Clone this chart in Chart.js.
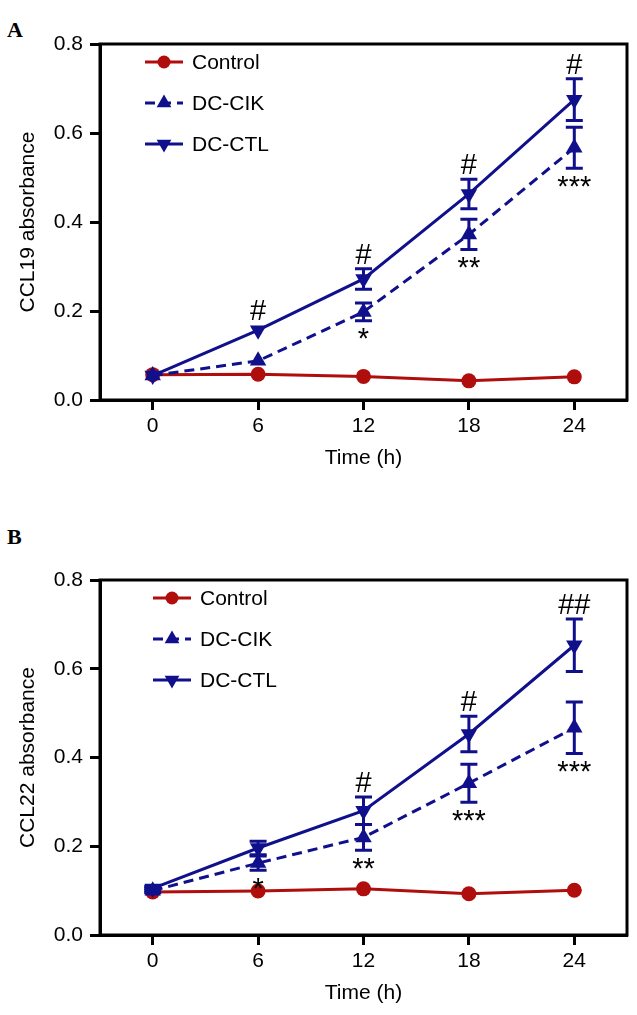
<!DOCTYPE html>
<html>
<head>
<meta charset="utf-8">
<script src="https://cdn.jsdelivr.net/npm/chart.js@4.4.1/dist/chart.umd.min.js"></script>
<style>
  body { margin: 0; background: #fff; }
  #page { position: relative; width: 637px; height: 1015px; overflow: hidden; }
  .panel { position: absolute; left: 0; width: 637px; }
  .tag { position: absolute; left: 7px; font: bold 22px "Liberation Serif", serif; color: #000; }
</style>
</head>
<body>
<div id="page">
  <div class="tag" style="top:17px">A</div>
  <div class="panel" style="top:0; height:480px"><canvas id="chartA"></canvas></div>
  <div class="tag" style="top:524px">B</div>
  <div class="panel" style="top:500px; height:515px"><canvas id="chartB"></canvas></div>
</div>
<script>
// x categories (hours) and y ticks
const hours = [0, 6, 12, 18, 24];
const yTicks = [0, 0.2, 0.4, 0.6, 0.8];
const names = ['Control', 'DC-CIK', 'DC-CTL'];

// panel A - CCL19
const ccl19Control = [0.057, 0.058, 0.053, 0.043, 0.052];
const ccl19Cik     = [0.055, 0.088, 0.198, 0.372, 0.567];
const ccl19CikErr  = [0, 0, 0.02, 0.034, 0.046];
const ccl19Ctl     = [0.055, 0.157, 0.272, 0.463, 0.675];
const ccl19CtlErr  = [0, 0, 0.023, 0.033, 0.047];
const ccl19Hash    = ['', '#', '#', '#', '#'];
const ccl19Star    = ['', '', '*', '**', '***'];

// panel B - CCL22
const ccl22Control = [0.097, 0.099, 0.104, 0.093, 0.101];
const ccl22Cik     = [0.100, 0.162, 0.220, 0.342, 0.467];
const ccl22CikErr  = [0.005, 0.016, 0.029, 0.043, 0.058];
const ccl22Ctl     = [0.105, 0.196, 0.280, 0.453, 0.653];
const ccl22CtlErr  = [0.005, 0.015, 0.031, 0.040, 0.059];
const ccl22Hash    = ['', '', '#', '#', '##'];
const ccl22Star    = ['', '*', '**', '***', '***'];

const red = '#b00d0d';
const blue = '#10108c';
const FONT = '"Liberation Sans", Arial, sans-serif';

// error bars, significance marks, frame and legend
const marksPlugin = {
  id: 'marks',
  afterDatasetsDraw(chart, args, opts) {
    const ctx = chart.ctx;
    const x = chart.scales.x, y = chart.scales.y;
    const a = chart.chartArea;
    ctx.save();
    ctx.strokeStyle = blue;
    ctx.lineWidth = 3;
    [[opts.cik, opts.cikErr], [opts.ctl, opts.ctlErr]].forEach(([vals, errs]) => {
      vals.forEach((v, i) => {
        if (!errs[i]) return;
        const px = x.getPixelForValue(hours[i]);
        const top = y.getPixelForValue(v + errs[i]);
        const bot = y.getPixelForValue(v - errs[i]);
        ctx.beginPath();
        ctx.moveTo(px, top); ctx.lineTo(px, bot);
        ctx.moveTo(px - 8.5, top); ctx.lineTo(px + 8.5, top);
        ctx.moveTo(px - 8.5, bot); ctx.lineTo(px + 8.5, bot);
        ctx.stroke();
      });
    });

    ctx.fillStyle = '#000';
    ctx.textAlign = 'center';
    ctx.font = '29px ' + FONT;
    hours.forEach((h, i) => {
      const px = x.getPixelForValue(h);
      if (opts.hash[i]) {
        const top = Math.min(y.getPixelForValue(opts.ctl[i] + opts.ctlErr[i]),
                             y.getPixelForValue(opts.ctl[i]) - 5);
        ctx.textBaseline = 'alphabetic';
        ctx.fillText(opts.hash[i], px, top - 5);
      }
      if (opts.star[i]) {
        const bot = Math.max(y.getPixelForValue(opts.cik[i] - opts.cikErr[i]),
                             y.getPixelForValue(opts.cik[i]) + 6);
        ctx.textBaseline = 'top';
        ctx.fillText(opts.star[i], px, bot + 5);
      }
    });

    // box round the plot
    ctx.strokeStyle = '#000';
    ctx.lineWidth = 3;
    ctx.strokeRect(a.left, a.top, a.right - a.left, a.bottom - a.top);

    // legend inside the plot
    const lx = a.left + opts.legendLeft;
    ctx.font = '21px ' + FONT;
    ctx.textAlign = 'left';
    ctx.textBaseline = 'middle';
    chart.data.datasets.forEach((ds, i) => {
      const ly = a.top + 18 + i * 41;
      ctx.strokeStyle = ds.borderColor;
      ctx.fillStyle = ds.borderColor;
      ctx.lineWidth = 3;
      ctx.setLineDash(ds.borderDash || []);
      ctx.beginPath();
      ctx.moveTo(lx, ly);
      ctx.lineTo(lx + 38, ly);
      ctx.stroke();
      ctx.setLineDash([]);
      Chart.helpers.drawPoint(ctx, {
        pointStyle: ds.pointStyle, radius: ds.pointRadius - 1,
        rotation: ds.pointRotation || 0, borderWidth: 0
      }, lx + 19, ly);
      ctx.fillStyle = '#000';
      ctx.fillText(ds.label, lx + 47, ly + 1);
    });
    ctx.restore();
  }
};

function makeChart(id, yTitle, control, cik, cikErr, ctl, ctlErr, hash, star, topPad, legendLeft) {
  return new Chart(document.getElementById(id), {
    type: 'line',
    data: {
      datasets: [{
        label: names[0],
        data: hours.map((h, i) => ({x: h, y: control[i]})),
        borderColor: red, backgroundColor: red,
        borderWidth: 3, pointStyle: 'circle', pointRadius: 7.5,
        pointBorderWidth: 0, order: 3
      }, {
        label: names[1],
        data: hours.map((h, i) => ({x: h, y: cik[i]})),
        borderColor: blue, backgroundColor: blue, borderDash: [10, 6],
        borderWidth: 3, pointStyle: 'triangle', pointRadius: 9.5,
        pointBorderWidth: 0, order: 2
      }, {
        label: names[2],
        data: hours.map((h, i) => ({x: h, y: ctl[i]})),
        borderColor: blue, backgroundColor: blue,
        borderWidth: 3, pointStyle: 'triangle', pointRotation: 180, pointRadius: 9.5,
        pointBorderWidth: 0, order: 1
      }]
    },
    options: {
      responsive: true,
      maintainAspectRatio: false,
      animation: false,
      layout: { padding: { top: topPad, right: 10, left: 0, bottom: 0 } },
      plugins: {
        legend: { display: false },
        tooltip: { enabled: false },
        marks: { cik: cik, cikErr: cikErr, ctl: ctl, ctlErr: ctlErr, hash: hash, star: star, legendLeft: legendLeft }
      },
      scales: {
        x: {
          type: 'linear', min: -3, max: 27,
          afterBuildTicks: s => { s.ticks = hours.map(v => ({value: v})); },
          afterFit: s => { s.height = 80; },
          grid: { display: true, drawOnChartArea: false, drawTicks: true, tickLength: 10, tickWidth: 3, tickColor: '#000' },
          border: { display: true, width: 3, color: '#000' },
          ticks: { color: '#000', font: { family: FONT, size: 21 }, padding: 4, maxRotation: 0 },
          title: { display: true, text: 'Time (h)', color: '#000', font: { family: FONT, size: 21 }, padding: { top: 0, bottom: 9 } }
        },
        y: {
          min: 0, max: 0.8,
          afterBuildTicks: s => { s.ticks = yTicks.map(v => ({value: v})); },
          afterFit: s => { s.width = 100; },
          grid: { display: true, drawOnChartArea: false, drawTicks: true, tickLength: 10, tickWidth: 3, tickColor: '#000' },
          border: { display: true, width: 3, color: '#000' },
          ticks: { color: '#000', font: { family: FONT, size: 21 }, padding: 7, callback: v => v.toFixed(1) },
          title: { display: true, text: yTitle, color: '#000', font: { family: FONT, size: 21 }, padding: { top: 16, bottom: 0 } }
        }
      }
    },
    plugins: [marksPlugin]
  });
}

makeChart('chartA', 'CCL19 absorbance', ccl19Control, ccl19Cik, ccl19CikErr, ccl19Ctl, ccl19CtlErr, ccl19Hash, ccl19Star, 44, 45);
makeChart('chartB', 'CCL22 absorbance', ccl22Control, ccl22Cik, ccl22CikErr, ccl22Ctl, ccl22CtlErr, ccl22Hash, ccl22Star, 80, 53);
</script>
</body>
</html>
